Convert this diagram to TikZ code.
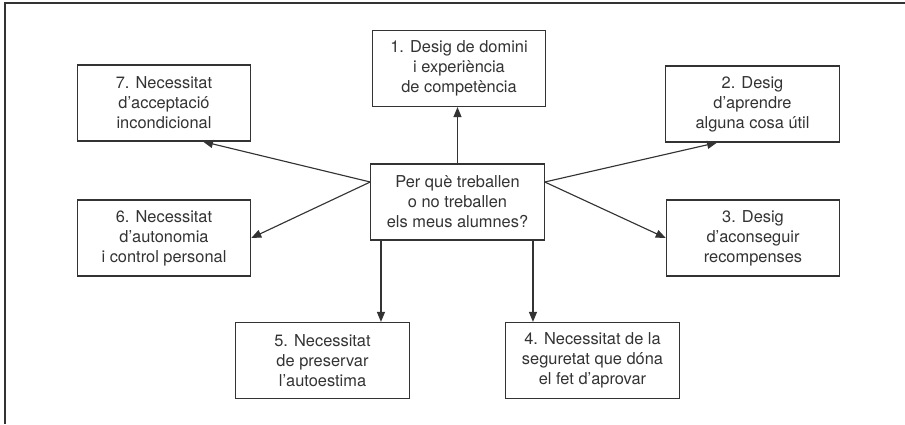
\documentclass[tikz,border=0pt]{standalone}
\usepackage{fontspec}
\setmainfont{TeX Gyre Heros}
\usetikzlibrary{arrows.meta}
\definecolor{ink}{HTML}{333333}
\tikzset{
  caixa/.style={draw=ink, line width=0.9pt, minimum width=130pt, minimum height=57pt,
    align=center, text=ink, font=\fontsize{12.3}{15}\selectfont, inner sep=2pt},
  fletxa/.style={draw=ink, line width=0.85pt, -{Triangle[length=7.5pt,width=6pt]}}
}
\begin{document}
\begin{tikzpicture}[x=0.75pt,y=-0.75pt]
				\useasboundingbox (0,0) rectangle (905,424);
				\draw[ink, line width=1pt] (905,3) -- (5,3) -- (5,424);
				% caixes
				\node[caixa] (c) at (457.5,202) {Per què treballen\\o no treballen\\els meus alumnes?};
				\node[caixa] (b1) at (459,68.5) {1. Desig de domini\\i experiència\\de competència};
				\node[caixa] (b2) at (752.5,104) {2. Desig\\d’aprendre\\alguna cosa útil};
				\node[caixa] (b3) at (753,238) {3. Desig\\d’aconseguir\\recompenses};
				\node[caixa] (b4) at (592.5,360.5) {4. Necessitat de la\\seguretat que dóna\\el fet d’aprovar};
				\node[caixa] (b5) at (322.5,360.5) {5. Necessitat\\de preservar\\l’autoestima};
				\node[caixa] (b6) at (164,238) {6. Necessitat\\d’autonomia\\i control personal};
				\node[caixa] (b7) at (164,103) {7. Necessitat\\d’acceptació\\incondicional};
				% fletxes
				\coordinate (ce) at ([yshift=15pt]c.east);
				\coordinate (cw) at ([yshift=15pt]c.west);
				\coordinate (cs5) at ([xshift=-57.4pt]c.south);
				\coordinate (cs4) at ([xshift=56.6pt]c.south);
				\draw[fletxa] (c.north) -- (c.north |- b1.south);
				\draw[fletxa] (ce) -- ([xshift=-26.6pt]b2.south);
				\draw[fletxa] (ce) -- (b3.west);
				\draw[fletxa] (cs4) -- (cs4 |- b4.north);
				\draw[fletxa] (cs5) -- (cs5 |- b5.north);
				\draw[fletxa] (cw) -- (b6.east);
				\draw[fletxa] (cw) -- ([xshift=29.25pt]b7.south);
			\end{tikzpicture}
\end{document}
